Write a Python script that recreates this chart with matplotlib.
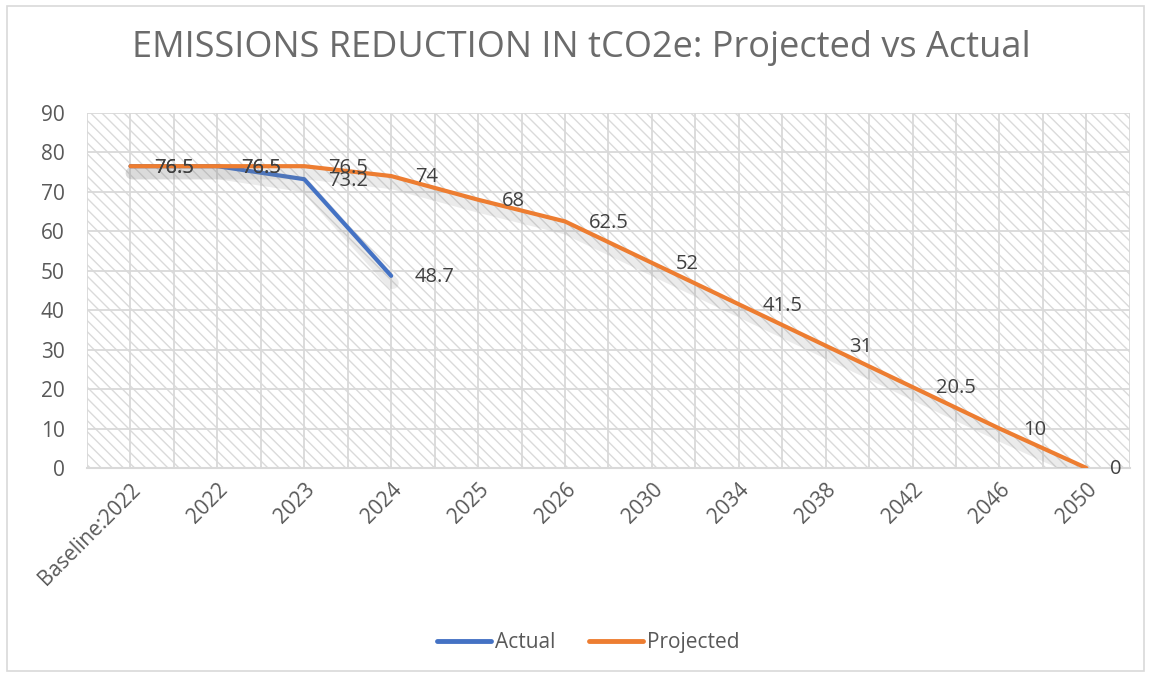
import matplotlib

matplotlib.use("Agg")
import matplotlib.pyplot as plt
import matplotlib.patheffects as pe
from matplotlib.lines import Line2D
from matplotlib.patches import Rectangle

categories = ["Baseline:2022", "2022", "2023", "2024", "2025", "2026",
              "2030", "2034", "2038", "2042", "2046", "2050"]
actual = [76.5, 76.5, 73.2, 48.7]
projected = [76.5, 76.5, 76.5, 74, 68, 62.5, 52, 41.5, 31, 20.5, 10, 0]
yticks = list(range(0, 91, 10))

BLUE = "#4472C4"
ORANGE = "#ED7D31"
TEXT = "#595959"
GRID = "#d9d9d9"

plt.rcParams["font.family"] = ["Open Sans", "DejaVu Sans"]
plt.rcParams["hatch.linewidth"] = 1.0

fig = plt.figure(figsize=(11.51, 6.75), dpi=100)
ax = fig.add_axes([0.0756, 0.3067, 0.906, 0.526])

# figure frame
fig.patches.append(Rectangle((0.006, 0.006), 0.988, 0.985, transform=fig.transFigure,
                             fill=False, edgecolor=GRID, linewidth=1.2))

# hatched plot area
ax.add_patch(Rectangle((0, 0), 1, 1, transform=ax.transAxes, facecolor="white",
                       edgecolor="#dadada", hatch="\\\\\\", linewidth=0, zorder=0))

xs = list(range(len(categories)))
for v in yticks:
    ax.axhline(v, color=GRID, linewidth=1.3, zorder=1)
for i in range(len(categories) * 2 + 1):
    ax.axvline(-0.5 + i * 0.5, color=GRID, linewidth=1.3, zorder=1)

shadow = [pe.SimpleLineShadow(offset=(1, -5), shadow_color="#888888", alpha=0.16, linewidth=9),
          pe.Normal()]

ax.plot(xs[:len(actual)], actual, color=BLUE, linewidth=3, solid_capstyle="round",
        zorder=3, path_effects=shadow)
ax.plot(xs, projected, color=ORANGE, linewidth=3, solid_capstyle="round",
        zorder=4, path_effects=shadow)

for x, v in zip(xs, actual):
    ax.annotate(f"{v:g}", (x, v), xytext=(17, -1), textcoords="offset points",
                ha="left", va="center", fontsize=14.5, color="#404040", zorder=5)
for x, v in zip(xs, projected):
    ax.annotate(f"{v:g}", (x, v), xytext=(17, -1), textcoords="offset points",
                ha="left", va="center", fontsize=14.5, color="#404040", zorder=5)

ax.set_xlim(-0.5, len(categories) - 0.5)
ax.set_ylim(0, 90)
ax.set_yticks(yticks)
ax.set_xticks(xs)
ax.set_xticklabels(categories, rotation=45, ha="right", rotation_mode="anchor")
ax.tick_params(axis="both", length=0, labelsize=15, labelcolor=TEXT)
ax.tick_params(axis="y", pad=16)
ax.tick_params(axis="x", pad=8)
for s in ["top", "right", "left"]:
    ax.spines[s].set_visible(False)
ax.spines["bottom"].set_color(GRID)
ax.spines["bottom"].set_linewidth(1.5)

fig.suptitle("EMISSIONS REDUCTION IN tCO2e: Projected vs Actual", x=0.505, y=0.955,
             fontsize=26, color="#6b6b6b")

handles = [Line2D([], [], color=BLUE, linewidth=3.5, solid_capstyle="round"),
           Line2D([], [], color=ORANGE, linewidth=3.5, solid_capstyle="round")]
fig.legend(handles, ["Actual", "Projected"], loc="lower center",
           bbox_to_anchor=(0.511, 0.005), ncol=2, frameon=False,
           fontsize=15, labelcolor=TEXT, handlelength=2.6, columnspacing=1.6,
           handletextpad=0.2)

fig.savefig("out.png", dpi=100)
